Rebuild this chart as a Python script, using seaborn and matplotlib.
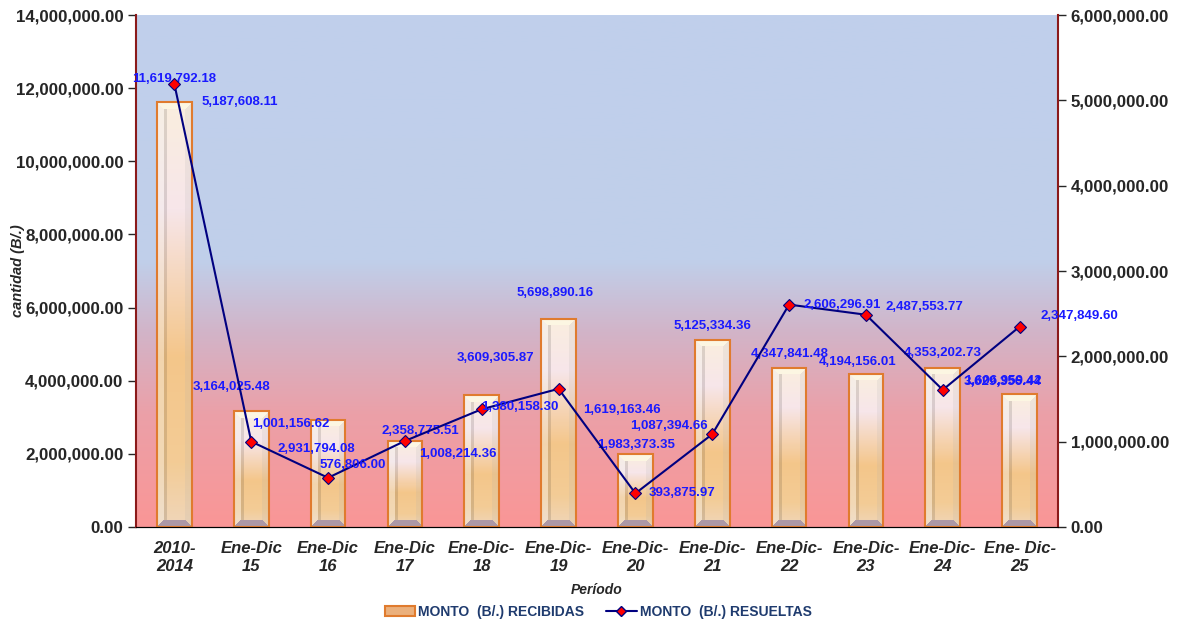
import numpy as np
import matplotlib
matplotlib.use('Agg')
import matplotlib.pyplot as plt
import seaborn as sns
import pandas as pd
from matplotlib.ticker import FuncFormatter, FixedLocator
from matplotlib.lines import Line2D
from matplotlib.patches import Patch

periodos = ['2010-\n2014', 'Ene-Dic\n15', 'Ene-Dic\n16', 'Ene-Dic\n17', 'Ene-Dic-\n18', 'Ene-Dic-\n19',
            'Ene-Dic-\n20', 'Ene-Dic-\n21', 'Ene-Dic-\n22', 'Ene-Dic-\n23', 'Ene-Dic-\n24', 'Ene- Dic-\n25']
recibidas = [11619792.18, 3164025.48, 2931794.08, 2358775.51, 3609305.87, 5698890.16,
             1983373.35, 5125334.36, 4347841.48, 4194156.01, 4353202.73, 3629356.44]
resueltas = [5187608.11, 1001156.62, 576806.00, 1008214.36, 1380158.30, 1619163.46,
             393875.97, 1087394.66, 2606296.91, 2487553.77, 1606959.42, 2347849.60]

# where the labels sit (pixels from the point), moved by hand like in the excel original
off_rec = [(0, 23), (-20, 24), (-12, -29), (15, 10), (14, 37), (-3, 26),
           (1, 9), (0, 14), (1, 14), (-8, 12), (0, 15), (-17, 12)]
off_res = [(65, -18), (40, 18), (25, 13), (53, -13), (38, 2), (63, -21),
           (47, 0), (-43, 8), (53, 0), (59, 8), (60, 9), (60, 11)]

sns.set_style('white')
plt.rcParams['font.family'] = ['Liberation Sans', 'DejaVu Sans']

df = pd.DataFrame({'periodo': periodos, 'recibidas': recibidas, 'resueltas': resueltas})
pos = np.arange(len(periodos))

fig = plt.figure(figsize=(11.77, 6.24), dpi=100)
ax1 = fig.add_axes([136 / 1177, 97 / 624, 922 / 1177, 512 / 624])

# background gradient blue -> pink
t = np.linspace(0, 1, 300)
stops = [0, 0.48, 0.62, 0.78, 1]
cols = np.array([[192, 208, 236], [192, 207, 234], [210, 180, 200], [235, 160, 168], [250, 150, 150]]) / 255
bg = np.stack([np.interp(t, stops, cols[:, k]) for k in range(3)], axis=-1)[:, None, :]
ax1.imshow(bg, extent=[0, 1, 0, 1], transform=ax1.transAxes, aspect='auto', zorder=0)

sns.barplot(data=df, x='periodo', y='recibidas', ax=ax1, width=0.45, color='#F3C48A',
            edgecolor='#E07B2E', linewidth=1.5, zorder=3)
ax1.set_xlim(-0.5, len(periodos) - 0.5)
ax1.set_ylim(0, 14e6)


def bar_image(W, H, b=7):
    # beveled "excel" bar: cream top bevel, grey bottom bevel, light side strips
    r, c = np.mgrid[0:H, 0:W]
    vy = r / max(H - 1, 1)
    stops_v = [0, 0.25, 0.6, 0.85, 1]
    cv = np.array([[250, 238, 222], [247, 230, 234], [244, 198, 138], [243, 204, 150], [240, 214, 186]]) / 255
    img = np.stack([np.interp(vy, stops_v, cv[:, k]) for k in range(3)], axis=-1)
    left = c < b
    right = c >= W - b
    img[left] = img[left] * 0.65 + 0.33
    img[right] = img[right] * 0.85 + 0.1
    shadow = (c >= b) & (c < b + 3)
    img[shadow] = img[shadow] * 0.88
    topb = (r < b) & (c >= r) & (c < W - r)
    img[topb] = np.array([252, 246, 226]) / 255
    rb = H - 1 - r
    botb = (rb < b) & (c >= rb) & (c < W - rb)
    img[botb] = np.array([172, 152, 166]) / 255
    return img


for p in ax1.patches:
    x0, y0, w, h = p.get_x(), p.get_y(), p.get_width(), p.get_height()
    (px0, py0), (px1, py1) = ax1.transData.transform([(x0, y0), (x0 + w, y0 + h)])
    img = bar_image(int(round(px1 - px0)), int(round(py1 - py0)))
    im = ax1.imshow(img, extent=[x0, x0 + w, y0, y0 + h], aspect='auto', zorder=2,
                    interpolation='nearest')
    im.set_clip_path(p)
    p.set_facecolor('none')
ax1.set_xlim(-0.5, len(periodos) - 0.5)
ax1.set_ylim(0, 14e6)

for i, v in enumerate(recibidas):
    ax1.annotate(f'{v:,.2f}', (pos[i], v), xytext=off_rec[i], textcoords='offset pixels',
                 ha='center', va='center', color='#1A1AFF', fontsize=9.5, fontweight='bold', zorder=5)

ax2 = ax1.twinx()
sns.lineplot(x=pos, y=resueltas, ax=ax2, color='#000080', lw=1.5, marker='D', markersize=6,
             markerfacecolor='#FF0000', markeredgecolor='#000080', markeredgewidth=0.8)
ax2.set_ylim(0, 6e6)
ax2.set_xlim(-0.5, len(periodos) - 0.5)
for i, v in enumerate(resueltas):
    ax2.annotate(f'{v:,.2f}', (pos[i], v), xytext=off_res[i], textcoords='offset pixels',
                 ha='center', va='center', color='#1A1AFF', fontsize=9.5, fontweight='bold')

fmt = FuncFormatter(lambda v, _: f'{v:,.2f}')
ax1.yaxis.set_major_formatter(fmt)
ax2.yaxis.set_major_formatter(fmt)
ax1.set_yticks(np.arange(0, 14e6 + 1, 2e6))
ax2.set_yticks(np.arange(0, 6e6 + 1, 1e6))
for ax in (ax1, ax2):
    ax.tick_params(axis='y', labelsize=12.2, length=6, width=1, direction='out', pad=3)
    for lab in ax.get_yticklabels():
        lab.set_fontweight('bold')
    for s in ('left', 'right'):
        ax.spines[s].set_color('#8B1A1A')
        ax.spines[s].set_linewidth(1.5)
    ax.spines['top'].set_visible(False)
    ax.spines['bottom'].set_color('black')
ax2.spines['left'].set_visible(False)
ax1.spines['right'].set_visible(False)

ax1.set_xticks(pos)
ax1.set_xticklabels(periodos, fontweight='bold', fontstyle='italic', fontsize=12, linespacing=1.3)
ax1.xaxis.set_minor_locator(FixedLocator(np.arange(-0.5, len(periodos), 1)))
ax1.tick_params(axis='x', which='major', length=0, pad=10)
ax1.tick_params(axis='x', which='minor', length=8, direction='inout', width=1, color='black')
ax1.set_ylabel('cantidad (B/.)', fontstyle='italic', fontweight='bold', fontsize=10.5)
ax1.yaxis.set_label_coords(-0.12, 0.5)
ax1.set_xlabel('Período', fontstyle='italic', fontweight='bold', fontsize=10)
ax1.xaxis.set_label_coords(0.5, -0.11)
ax1.xaxis.label.set_va('top')

handles = [Patch(facecolor='#EBB07C', edgecolor='#E07B2E', linewidth=1.5),
           Line2D([], [], color='#000080', lw=1.5, marker='D', markersize=5,
                  markerfacecolor='#FF0000', markeredgecolor='#000080')]
leg = fig.legend(handles, ['MONTO  (B/.) RECIBIDAS', 'MONTO  (B/.) RESUELTAS'], loc='center',
                 bbox_to_anchor=(598 / 1177, 1 - 612 / 624), ncol=2, frameon=False,
                 prop={'weight': 'bold', 'size': 10},
                 handlelength=2.2, handletextpad=0.2, columnspacing=1.6)
for txt in leg.get_texts():
    txt.set_color('#1F3B6E')

fig.savefig('out.png', dpi=100)
